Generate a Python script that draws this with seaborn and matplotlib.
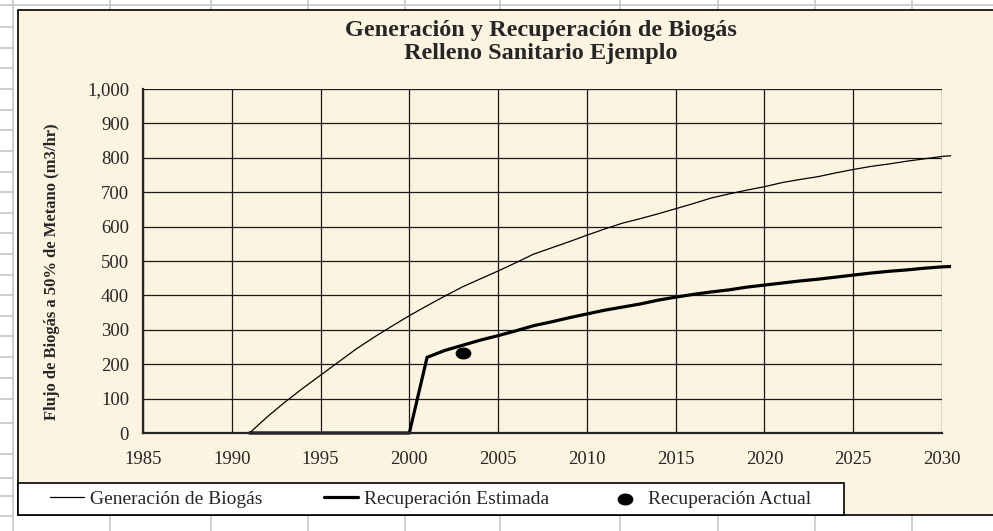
import numpy as np
import pandas as pd
import matplotlib
matplotlib.use("Agg")
import matplotlib.pyplot as plt
import seaborn as sns
from matplotlib.lines import Line2D
from matplotlib.patches import Rectangle
from matplotlib.path import Path
from matplotlib.transforms import Affine2D, Bbox, TransformedBbox

# data
years = list(range(1991, 2032))
generacion = [0, 47, 90, 130, 168, 206, 244, 278, 310, 341,
              370, 398, 425, 448, 471, 495, 520, 538, 556, 575,
              593, 610, 623, 637, 652, 667, 683, 695, 706, 716,
              728, 737, 745, 756, 766, 775, 782, 790, 797, 804, 808]
recuperacion = [0, 0, 0, 0, 0, 0, 0, 0, 0, 0,
                220, 240, 255, 270, 283, 297, 312, 323, 335, 346,
                357, 366, 375, 386, 395, 403, 410, 416, 424, 430,
                436, 442, 447, 453, 459, 465, 470, 474, 479, 483, 485]
actual_year = [2003]
actual_value = [232]

x_ticks = list(range(1985, 2031, 5))
y_ticks = list(range(0, 1001, 100))

title = "Generación y Recuperación de Biogás\nRelleno Sanitario Ejemplo"
ylabel = "Flujo de Biogás a 50% de Metano (m3/hr)"
labels = ["Generación de Biogás", "Recuperación Estimada", "Recuperación Actual"]

df = pd.DataFrame({"year": years, "gen": generacion, "rec": recuperacion})
df_act = pd.DataFrame({"year": actual_year, "val": actual_value})

sns.set_style("white")
plt.rcParams["font.family"] = ["Liberation Serif", "DejaVu Serif"]

W, H = 993, 531
fig = plt.figure(figsize=(W / 100, H / 100), dpi=100)
fig.patch.set_facecolor("white")

# spreadsheet cells behind the chart
for cx in [12.5, 110, 211, 308, 405, 500, 620, 718, 815, 912]:
    fig.add_artist(Line2D([cx / W, cx / W], [0, 1], color="#c6c6c6", lw=1.2, zorder=0))
for cy in [5, 27, 48, 68, 89, 110, 130, 151, 172, 192, 213, 233, 254, 275,
           295, 316, 336, 357, 378, 399, 423, 454, 478, 496, 516]:
    fig.add_artist(Line2D([0, 13 / W], [1 - cy / H, 1 - cy / H], color="#c6c6c6", lw=1.2, zorder=0))
fig.add_artist(Line2D([12.5 / W, 1], [1 - 5 / H, 1 - 5 / H], color="#c6c6c6", lw=1.2, zorder=0))

# chart area
fig.add_artist(Rectangle((18 / W, 1 - 515 / H), 1.0, (515 - 10) / H,
                         facecolor="#fcf4e0", edgecolor="black", lw=1.2, zorder=1))
# legend box
fig.add_artist(Rectangle((18 / W, 1 - 515 / H), (844 - 18) / W, (515 - 483) / H,
                         facecolor="white", edgecolor="black", lw=1.2, zorder=2))

ax = fig.add_axes([143 / W, 1 - 433 / H, (942 - 143) / W, (433 - 89) / H])
ax.set_zorder(2)
ax.patch.set_alpha(0)

sns.lineplot(data=df, x="year", y="gen", ax=ax, color="black", lw=0.9, label=labels[0])
sns.lineplot(data=df, x="year", y="rec", ax=ax, color="black", lw=2.3, label=labels[1])

ellipse = Path.unit_circle().transformed(Affine2D().scale(1.35, 1.0))
sns.scatterplot(data=df_act, x="year", y="val", ax=ax, marker=ellipse, s=110,
                color="black", edgecolor="black", label=labels[2], zorder=5)

clip = TransformedBbox(Bbox([[1985, -30], [2030.5, 1030]]), ax.transData)
for ln in ax.lines:
    ln.set_clip_box(clip)

ax.set_xlim(1985, 2030)
ax.set_ylim(0, 1000)
ax.set_xticks(x_ticks)
ax.set_yticks(y_ticks)
ax.set_yticklabels([f"{v:,}" for v in y_ticks])
ax.grid(True, color="#1a1a1a", lw=0.9)
ax.set_axisbelow(True)
for s in ax.spines.values():
    s.set_visible(False)
ax.spines["left"].set_visible(True)
ax.spines["bottom"].set_visible(True)
ax.spines["left"].set_linewidth(1.6)
ax.spines["bottom"].set_linewidth(1.6)
ax.tick_params(axis="both", direction="out", length=5, width=1.2, color="black",
               labelsize=13.5)
ax.tick_params(axis="x", pad=8)
ax.tick_params(axis="y", pad=5)
ax.set_xlabel("")
ax.set_ylabel(ylabel, fontsize=12, fontweight="bold")
ax.yaxis.set_label_coords(-0.104, 0.468)

handles, _ = ax.get_legend_handles_labels()
ax.get_legend().remove()
fig.text(541 / W, 1 - 42 / H, title, ha="center", va="center", fontsize=17.5,
         fontweight="bold", linespacing=1.12)

# legend entries placed like the spreadsheet legend
for h, lab, x0 in zip(handles, labels, [50, 324, 608]):
    leg = fig.legend([h], [lab], loc="center left",
                     bbox_to_anchor=(x0 / W, 1 - 499 / H), frameon=False,
                     fontsize=14, handlelength=1.75, handletextpad=0.3,
                     borderaxespad=0, borderpad=0)
    leg.set_zorder(3)

fig.savefig("out.png", dpi=100)
